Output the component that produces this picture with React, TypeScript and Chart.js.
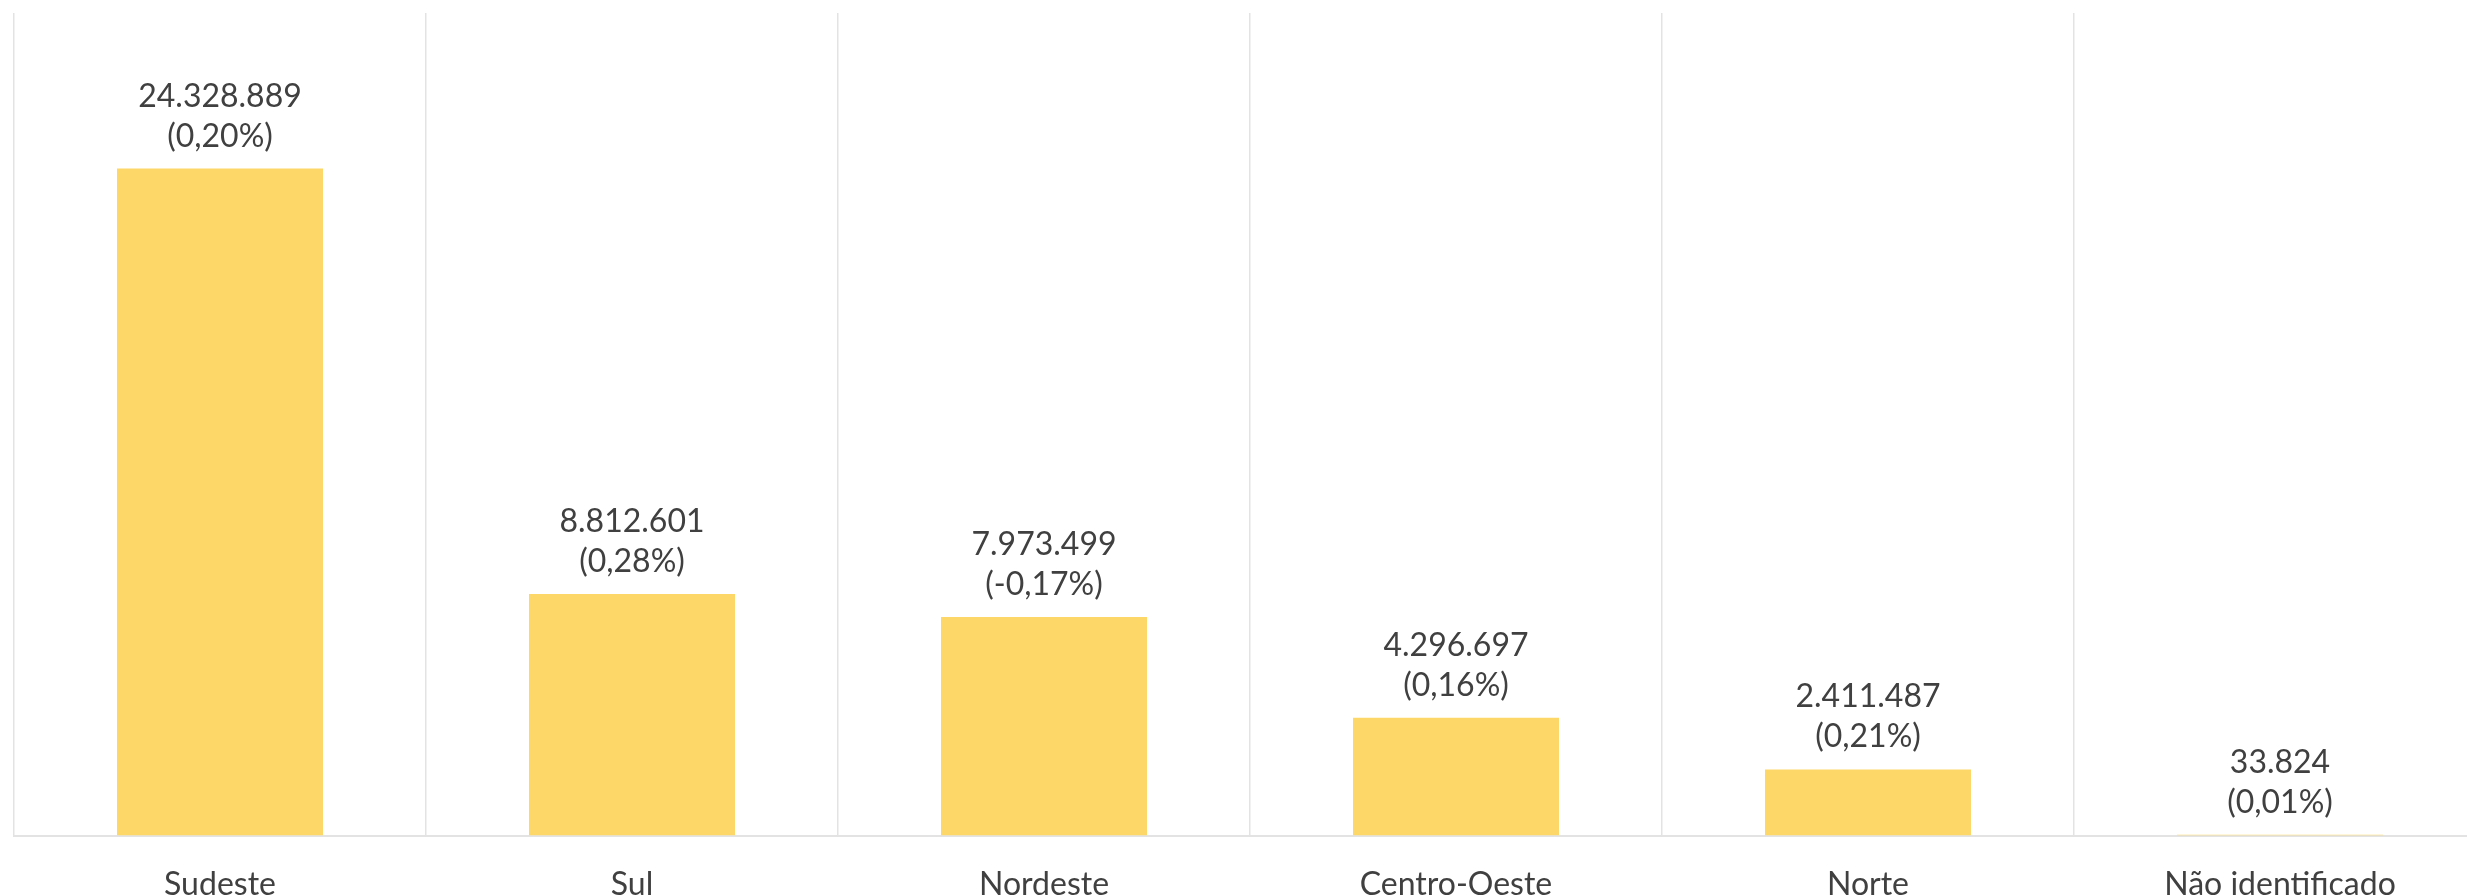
import React, { useEffect, useRef } from "react";
import { Chart, registerables } from "chart.js";

Chart.register(...registerables);

const categories = ["Sudeste", "Sul", "Nordeste", "Centro-Oeste", "Norte", "Não identificado"];
const values = [24328889, 8812601, 7973499, 4296697, 2411487, 33824];
const valueLabels = ["24.328.889", "8.812.601", "7.973.499", "4.296.697", "2.411.487", "33.824"];
const percentLabels = ["(0,20%)", "(0,28%)", "(-0,17%)", "(0,16%)", "(0,21%)", "(0,01%)"];
const yMax = 30000000;

const FONT = "Lato, 'Open Sans', sans-serif";
const TEXT_COLOR = "#404040";

const labelPlugin = {
  id: "barLabels",
  afterDatasetsDraw(chart: any) {
    const ctx = chart.ctx;
    const meta = chart.getDatasetMeta(0);
    ctx.save();
    ctx.font = `32px ${FONT}`;
    ctx.fillStyle = TEXT_COLOR;
    ctx.textAlign = "center";
    ctx.textBaseline = "alphabetic";
    meta.data.forEach((bar: any, i: number) => {
      const x = bar.x;
      const y = bar.y;
      ctx.fillText(valueLabels[i], x, y - 62);
      ctx.fillText(percentLabels[i], x, y - 22);
    });
    ctx.restore();
  },
};

export default function App() {
  const ref = useRef<HTMLCanvasElement>(null);
  useEffect(() => {
    if (!ref.current) return;
    const chart = new Chart(ref.current, {
      type: "bar",
      data: {
        labels: categories,
        datasets: [
          {
            data: values,
            backgroundColor: "#FDD868",
            borderWidth: 0,
            barPercentage: 0.5,
            categoryPercentage: 1,
          },
        ],
      },
      options: {
        responsive: false,
        maintainAspectRatio: false,
        animation: false,
        devicePixelRatio: 1,
        layout: { padding: { left: 14, right: 14, top: 13, bottom: 0 } },
        plugins: {
          legend: { display: false },
          tooltip: { enabled: false },
        },
        scales: {
          x: {
            grid: {
              display: true,
              offset: true,
              color: "#e3e3e3",
              lineWidth: 1.5,
              drawTicks: false,
            },
            border: { display: true, color: "#e3e3e3", width: 2 },
            ticks: {
              color: TEXT_COLOR,
              font: { family: FONT, size: 32 },
              padding: 30,
              maxRotation: 0,
              autoSkip: false,
            },
          },
          y: {
            display: false,
            min: 0,
            max: yMax,
          },
        },
      },
      plugins: [labelPlugin],
    });
    return () => chart.destroy();
  }, []);
  return (
    <div
      style={{
        position: "fixed",
        left: 0,
        top: 0,
        width: 2467,
        height: 895,
        overflow: "hidden",
        background: "#fff",
      }}
    >
      <canvas ref={ref} width={2500} height={934} style={{ width: 2500, height: 934, display: "block" }} />
    </div>
  );
}
